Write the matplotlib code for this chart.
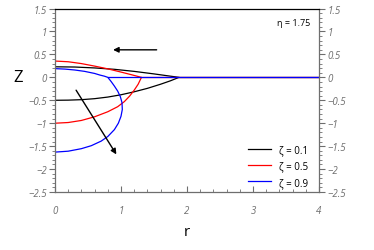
import numpy as np
import matplotlib
matplotlib.use("Agg")
import matplotlib.pyplot as plt
from matplotlib.ticker import MultipleLocator

plt.rcParams['font.family'] = ['Open Sans', 'DejaVu Sans']
plt.rcParams['axes.unicode_minus'] = True

# curve data (r, Z)
eta = 1.75
zeta_labels = ['ζ = 0.1', 'ζ = 0.5', 'ζ = 0.9']
colors = ['black', 'red', 'blue']

# zeta = 0.1: lower branch -> tip -> upper branch, then flat tail
r_01 = [0.0, 0.2, 0.4, 0.6, 0.8, 1.0, 1.2, 1.4, 1.6, 1.75, 1.88,
        1.7, 1.5, 1.2, 0.9, 0.6, 0.3, 0.0]
z_01 = [-0.50, -0.497, -0.487, -0.465, -0.43, -0.38, -0.315, -0.24, -0.15, -0.075, 0.0,
        0.035, 0.075, 0.13, 0.175, 0.205, 0.225, 0.23]
tail_01 = [1.88, 4.0]

# zeta = 0.5
r_05 = [0.0, 0.2, 0.4, 0.6, 0.8, 0.95, 1.05, 1.13, 1.2, 1.26, 1.31,
        1.15, 1.0, 0.8, 0.6, 0.4, 0.2, 0.0]
z_05 = [-1.0, -0.985, -0.94, -0.86, -0.75, -0.64, -0.53, -0.41, -0.28, -0.15, 0.0,
        0.06, 0.115, 0.185, 0.245, 0.30, 0.34, 0.355]
tail_05 = [1.31, 4.0]

# zeta = 0.9
r_09 = [0.0, 0.2, 0.4, 0.55, 0.7, 0.8, 0.9, 0.96, 1.0, 1.02, 1.015, 0.99, 0.95, 0.9, 0.85, 0.8,
        0.75, 0.68, 0.6, 0.45, 0.3, 0.15, 0.0]
z_09 = [-1.63, -1.61, -1.555, -1.49, -1.39, -1.29, -1.14, -1.0, -0.85, -0.7, -0.55, -0.42, -0.3, -0.19, -0.09, 0.0,
        0.025, 0.05, 0.085, 0.13, 0.16, 0.18, 0.19]
tail_09 = [0.8, 4.0]

curves = [(r_01, z_01, tail_01), (r_05, z_05, tail_05), (r_09, z_09, tail_09)]

fig = plt.figure(figsize=(3.74, 2.51), dpi=100)
ax = fig.add_axes([0.147, 0.231, 0.706, 0.731])

for (r, z, tail), c, lab in zip(curves, colors, zeta_labels):
    ax.plot(r, z, color=c, lw=0.9, label=lab)
    ax.plot(tail, [0, 0], color=c, lw=0.9)

# arrows showing the trend
ax.annotate('', xy=(0.88, 0.6), xytext=(1.54, 0.6),
            arrowprops=dict(arrowstyle='-|>', color='black', lw=1.0,
                            mutation_scale=8, shrinkA=0, shrinkB=0))
ax.annotate('', xy=(0.93, -1.68), xytext=(0.32, -0.28),
            arrowprops=dict(arrowstyle='-|>', color='black', lw=1.0,
                            mutation_scale=8, shrinkA=0, shrinkB=0))

ax.text(3.87, 1.2, f'η = {eta}', ha='right', va='center', fontsize=6.5)

ax.set_xlim(0, 4)
ax.set_ylim(-2.5, 1.5)
ax.xaxis.set_major_locator(MultipleLocator(1))
ax.xaxis.set_minor_locator(MultipleLocator(0.2))
ax.yaxis.set_major_locator(MultipleLocator(0.5))
ax.yaxis.set_minor_locator(MultipleLocator(0.1))

grey = '#6e6e6e'
for s in ['left', 'bottom', 'right']:
    ax.spines[s].set_color(grey)
ax.spines['top'].set_color('black')
for s in ax.spines.values():
    s.set_linewidth(0.9)

ax.tick_params(axis='y', which='both', direction='out', left=True, right=True,
               labelleft=True, labelright=True, colors=grey, labelsize=7, pad=2)
ax.tick_params(axis='y', which='major', length=4, width=0.8)
ax.tick_params(axis='y', which='minor', length=2.5, width=0.6)
ax.tick_params(axis='x', which='both', direction='in', top=False, colors=grey,
               labelsize=7, pad=9)
ax.tick_params(axis='x', which='major', length=4, width=0.8)
ax.tick_params(axis='x', which='minor', length=2.5, width=0.6)

def fmt(v, pos):
    s = f'{v:g}'
    return s.replace('-', '\u2212')

ax.xaxis.set_major_formatter(plt.FuncFormatter(fmt))
ax.yaxis.set_major_formatter(plt.FuncFormatter(fmt))
for lbl in ax.get_xticklabels() + ax.get_yticklabels():
    lbl.set_fontstyle('italic')

ax.set_ylabel('Z', rotation=0, fontsize=12, ha='center', va='center')
ax.yaxis.set_label_coords(-0.14, 0.627)
ax.set_xlabel('r', fontsize=11, ha='center', va='center')
ax.xaxis.set_label_coords(0.5, -0.215)

ax.legend(loc='lower right', bbox_to_anchor=(0.99, -0.025), frameon=False,
          fontsize=7, handlelength=2.3, handletextpad=0.8, labelspacing=0.55)

fig.savefig('out.png', dpi=100)
